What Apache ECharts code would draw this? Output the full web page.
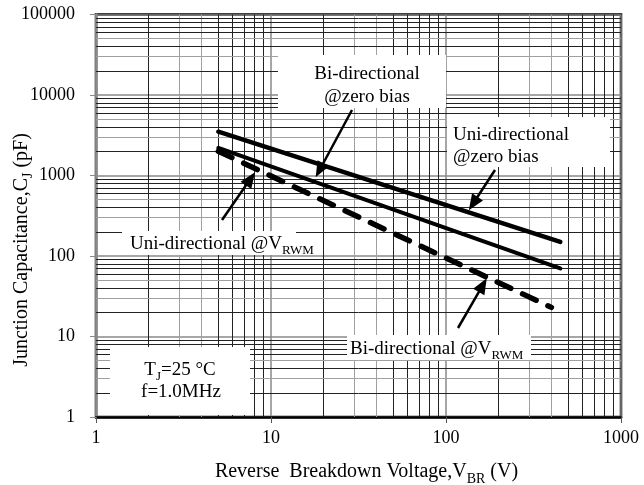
<!DOCTYPE html>
<html><head><meta charset="utf-8">
<script src="https://cdn.jsdelivr.net/npm/echarts@6/dist/echarts.min.js"></script>
<style>html,body{margin:0;padding:0;background:#fff}#c{width:644px;height:485px}</style>
</head><body><div id="c"></div>
<script>
// ---- data ----
const uniZeroBias = [[5, 3500], [450, 150]];   // Uni-directional @zero bias
const biZeroBias  = [[5, 2200], [450, 70]];    // Bi-directional @zero bias
const atVrwm      = [[5, 2000], [400, 23]];    // @V_RWM (uni & bi)
const xTickLabels = ['1', '10', '100', '1000'];
const yTickLabels = ['1', '10', '100', '1000', '10000', '100000'];
const xDecades = [1, 10, 100];
const yDecades = [1, 10, 100, 1000, 10000];
const minorMultipliers = [2, 3, 4, 5, 6, 7, 8, 9];
// annotation anchors (data coordinates the arrows point at)
const anchorBiZero  = [18, 950];
const anchorUniZero = [135, 370];
const anchorUniVrwm = [8.1, 1100];
const anchorBiVrwm  = [171, 53];

const FONT = '"Liberation Serif","Times New Roman",serif';
const DARK = '#222', GREY = '#a0a0a0';

const gridLines = [];
xDecades.forEach(d => minorMultipliers.forEach(m => {
  gridLines.push({xAxis: d * m, lineStyle: {color: (m === 3 || m === 4) ? GREY : DARK, width: 1, type: 'solid'}});
}));
yDecades.forEach(d => minorMultipliers.forEach(m => {
  gridLines.push({yAxis: d * m, lineStyle: {color: (m === 3 || m === 5) ? GREY : DARK, width: 1, type: 'solid'}});
}));

const chart = echarts.init(document.getElementById('c'), null, {renderer: 'canvas'});
const subRich = {
  sub: {fontFamily: FONT, fontSize: 14, lineHeight: 29, verticalAlign: 'bottom', color: '#000'}
};
chart.setOption({
  animation: false,
  backgroundColor: '#fff',
  grid: {left: 96, right: 23, top: 14.5, bottom: 68, containLabel: false, outerBoundsMode: 'none',
    show: true, borderColor: '#000', borderWidth: 2.5, backgroundColor: 'transparent'},
  xAxis: {
    type: 'log', logBase: 10, min: 1, max: 1000, splitNumber: 3,
    axisLine: {show: true, lineStyle: {color: '#000', width: 2.5}},
    axisTick: {show: true, length: 6, lineStyle: {color: '#555', width: 1}},
    axisLabel: {fontFamily: FONT, fontSize: 18, color: '#000', margin: 12,
      formatter: (v) => xTickLabels[Math.round(Math.log10(v))]},
    splitLine: {show: true, lineStyle: {color: '#888', width: 1.5}},
    name: 'Reverse  Breakdown Voltage,V{sub|BR} (V)',
    nameLocation: 'middle', nameGap: 40, nameMoveOverlap: false,
    nameTextStyle: {fontFamily: FONT, fontSize: 20, color: '#000', lineHeight: 29, padding: [0, 0, 0, 16], rich: subRich}
  },
  yAxis: {
    type: 'log', logBase: 10, min: 1, max: 100000, splitNumber: 5,
    axisLine: {show: true, lineStyle: {color: '#8a8a8a', width: 2.5}},
    axisTick: {show: true, length: 6, lineStyle: {color: '#8a8a8a', width: 1}},
    axisLabel: {fontFamily: FONT, fontSize: 18, color: '#000', margin: 21,
      formatter: (v) => yTickLabels[Math.round(Math.log10(v))]},
    splitLine: {show: true, lineStyle: {color: '#888', width: 1.5}}
  },
  series: [
    {type: 'line', name: 'grid', data: [], silent: true, z: 1,
     markLine: {silent: true, symbol: ['none', 'none'], label: {show: false}, animation: false, data: gridLines}},
    {type: 'line', name: 'Uni-directional @zero bias', data: uniZeroBias, symbol: 'none', z: 5,
     lineStyle: {color: '#000', width: 4.5, cap: 'round'}},
    {type: 'line', name: 'Bi-directional @zero bias', data: biZeroBias, symbol: 'none', z: 5,
     lineStyle: {color: '#000', width: 4, cap: 'round'}},
    {type: 'line', name: '@VRWM', data: atVrwm, symbol: 'none', z: 5,
     lineStyle: {color: '#000', width: 5.5, type: [15, 13], cap: 'round'}}
  ]
});

function arrow(tail, anchor) {
  const tip = chart.convertToPixel({gridIndex: 0}, anchor);
  const dx = tip[0] - tail[0], dy = tip[1] - tail[1];
  const L = Math.sqrt(dx * dx + dy * dy), ux = dx / L, uy = dy / L;
  const hl = 16, hw = 6.5;
  const bx = tip[0] - ux * hl, by = tip[1] - uy * hl;
  return [
    {type: 'line', z: 20, shape: {x1: tail[0], y1: tail[1], x2: bx + ux * 2, y2: by + uy * 2},
     style: {stroke: '#000', lineWidth: 2.5}},
    {type: 'polygon', z: 20, shape: {points: [[tip[0], tip[1]], [bx - uy * hw, by + ux * hw], [bx + uy * hw, by - ux * hw]]},
     style: {fill: '#000'}}
  ];
}
function box(x, y, w, h) {
  return {type: 'rect', z: 10, shape: {x: x, y: y, width: w, height: h}, style: {fill: '#fff'}};
}
function txt(x, y, s, align, size, rot) {
  const fs = size || 19;
  return {type: 'text', z: 15, x: x, y: y, rotation: rot || 0,
    style: {text: s, fontFamily: FONT, fontSize: fs, fill: '#000', align: align || 'center', verticalAlign: 'middle',
      lineHeight: 27,
      rich: {sub: {fontFamily: FONT, fontSize: Math.round(fs * 0.7), lineHeight: 27, verticalAlign: 'bottom', fill: '#000'},
             b: {fontFamily: FONT, fontSize: fs, lineHeight: 27, fill: '#000'}}}};
}

const g = [];
// y-axis title
g.push(txt(22, 250, '{b|Junction Capacitance,C}{sub|J}{b| (pF)}', 'center', 20, Math.PI / 2));
g.push(box(278, 55, 168, 53));
g.push(txt(367, 74, 'Bi-directional'));
g.push(txt(367, 97, '@zero bias'));
g.push(box(447, 117, 163, 50));
g.push(txt(453, 135, 'Uni-directional', 'left'));
g.push(txt(453, 157, '@zero bias', 'left'));
g.push(box(122, 231, 174, 24));
g.push(txt(130, 244, '{b|Uni-directional @V}{sub|RWM}', 'left'));
g.push(box(347, 335, 184, 25));
g.push(txt(350, 349, '{b|Bi-directional @V}{sub|RWM}', 'left'));
g.push(box(110, 347, 140, 68));
g.push(txt(180, 370, '{b|T}{sub|J}{b|=25 °C}'));
g.push(txt(181, 392, 'f=1.0MHz'));
g.push(...arrow([352, 110], anchorBiZero));
g.push(...arrow([495, 170], anchorUniZero));
g.push(...arrow([222, 220], anchorUniVrwm));
g.push(...arrow([458, 328], anchorBiVrwm));
chart.setOption({graphic: g});
</script></body></html>
